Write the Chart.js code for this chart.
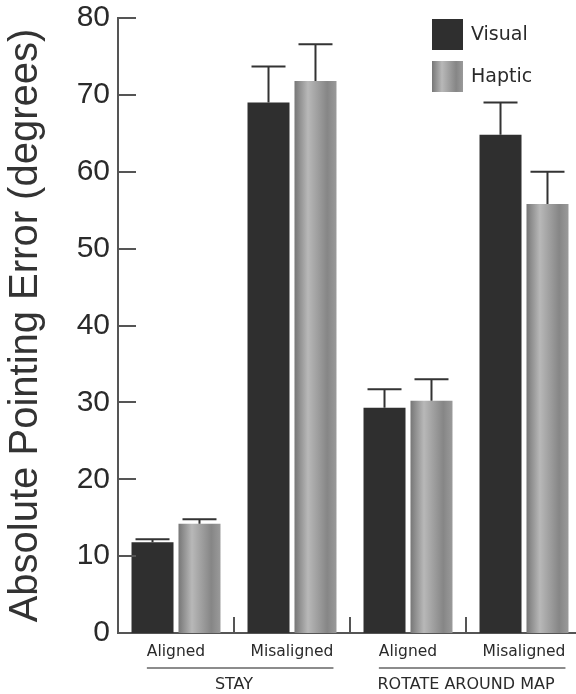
<!DOCTYPE html>
<html>
<head>
<meta charset="utf-8">
<script src="https://cdn.jsdelivr.net/npm/chart.js@4.4.1/dist/chart.umd.min.js"></script>
<style>
  html, body { margin: 0; padding: 0; background: #fff; overflow: hidden; }
  #chart { display: block; }
</style>
</head>
<body>
<canvas id="chart" width="582" height="694"></canvas>
<script>
// data
const categories = ['Aligned', 'Misaligned', 'Aligned', 'Misaligned'];
const groups = ['STAY', 'ROTATE AROUND MAP'];
const seriesNames = ['Visual', 'Haptic'];
const visualMeans = [11.8, 69.0, 29.3, 64.8];
const visualErrors = [0.4, 4.7, 2.4, 4.2];
const hapticMeans = [14.2, 71.8, 30.2, 55.8];
const hapticErrors = [0.6, 4.8, 2.8, 4.2];
const yTicks = [0, 10, 20, 30, 40, 50, 60, 70, 80];

const catPct = 0.81;
const barPct = 0.894;
const axisColor = '#555';
const textColor = '#2a2a2a';
const smallFont = '"DejaVu Sans", Verdana, sans-serif';

function hapticGradient(ctx, left, right) {
  const g = ctx.createLinearGradient(left, 0, right, 0);
  g.addColorStop(0, '#777');
  g.addColorStop(0.32, '#b8b8b8');
  g.addColorStop(0.78, '#868686');
  g.addColorStop(1, '#9a9a9a');
  return g;
}

function hapticFill(context) {
  const chart = context.chart;
  const xs = chart.scales.x;
  if (!xs || context.dataIndex === undefined) return '#999';
  const slot = (xs.width / categories.length) * catPct / 2;
  const cx = xs.getPixelForValue(context.dataIndex) + slot / 2;
  const hw = slot * barPct / 2;
  if (!isFinite(cx) || !isFinite(hw) || hw <= 0) return '#999';
  return hapticGradient(chart.ctx, cx - hw, cx + hw);
}

// error bars (upper only)
const errorBars = {
  id: 'errorBars',
  afterDatasetsDraw(chart) {
    const ctx = chart.ctx;
    const y = chart.scales.y;
    const errs = [visualErrors, hapticErrors];
    const means = [visualMeans, hapticMeans];
    ctx.save();
    ctx.strokeStyle = '#333';
    ctx.lineWidth = 2;
    chart.data.datasets.forEach(function(ds, di) {
      chart.getDatasetMeta(di).data.forEach(function(bar, i) {
        const top = y.getPixelForValue(means[di][i] + errs[di][i]);
        ctx.beginPath();
        ctx.moveTo(bar.x, bar.y);
        ctx.lineTo(bar.x, top);
        ctx.moveTo(bar.x - 17, top);
        ctx.lineTo(bar.x + 17, top);
        ctx.stroke();
      });
    });
    ctx.restore();
  }
};

// inward ticks, group separators, group labels, legend
const decorations = {
  id: 'decorations',
  afterDraw(chart) {
    const ctx = chart.ctx;
    const area = chart.chartArea;
    const xs = chart.scales.x;
    const y = chart.scales.y;
    ctx.save();
    ctx.strokeStyle = axisColor;
    ctx.lineWidth = 2;
    y.ticks.forEach(function(t) {
      if (t.value === 0) return;
      const py = Math.round(y.getPixelForValue(t.value));
      ctx.beginPath();
      ctx.moveTo(area.left, py);
      ctx.lineTo(area.left + 18, py);
      ctx.stroke();
    });
    for (let i = 0; i < categories.length - 1; i++) {
      const px = Math.round((xs.getPixelForValue(i) + xs.getPixelForValue(i + 1)) / 2);
      ctx.beginPath();
      ctx.moveTo(px, area.bottom);
      ctx.lineTo(px, area.bottom - 16);
      ctx.stroke();
    }

    // group labels under the category labels
    ctx.strokeStyle = '#666';
    ctx.lineWidth = 1.6;
    ctx.fillStyle = textColor;
    ctx.textAlign = 'center';
    ctx.textBaseline = 'alphabetic';
    groups.forEach(function(name, g) {
      const a = 2 * g, b = 2 * g + 1;
      const ca = xs.getPixelForValue(a), cb = xs.getPixelForValue(b);
      ctx.font = '15.5px ' + smallFont;
      const left = ca - ctx.measureText(categories[a]).width / 2;
      const right = cb + ctx.measureText(categories[b]).width / 2;
      ctx.beginPath();
      ctx.moveTo(left, 668);
      ctx.lineTo(right, 668);
      ctx.stroke();
      ctx.font = '16px ' + smallFont;
      ctx.fillText(name, (ca + cb) / 2, 689);
    });

    // legend
    ctx.font = '19px ' + smallFont;
    ctx.textAlign = 'left';
    ctx.textBaseline = 'middle';
    const lx = 432, box = 31;
    seriesNames.forEach(function(name, i) {
      const ly = 19 + i * 42;
      ctx.fillStyle = i === 0 ? '#2f2f2f' : hapticGradient(ctx, lx, lx + box);
      ctx.fillRect(lx, ly, box, box);
      ctx.fillStyle = textColor;
      ctx.fillText(name, lx + 39, ly + box / 2 + 1);
    });
    ctx.restore();
  }
};

new Chart(document.getElementById('chart'), {
  type: 'bar',
  data: {
    labels: categories,
    datasets: [
      {
        label: seriesNames[0],
        data: visualMeans,
        backgroundColor: '#2f2f2f',
        categoryPercentage: catPct,
        barPercentage: barPct
      },
      {
        label: seriesNames[1],
        data: hapticMeans,
        backgroundColor: hapticFill,
        categoryPercentage: catPct,
        barPercentage: barPct
      }
    ]
  },
  options: {
    responsive: false,
    animation: false,
    layout: { padding: { top: 18, left: 0, right: 0, bottom: 0 } },
    plugins: {
      legend: { display: false },
      tooltip: { enabled: false }
    },
    scales: {
      x: {
        grid: { display: false, drawTicks: false },
        border: { color: axisColor, width: 2 },
        ticks: {
          color: textColor,
          padding: 10,
          font: { family: smallFont, size: 15.5 }
        },
        afterFit: function(scale) { scale.height = 61; }
      },
      y: {
        min: 0,
        max: 80,
        afterBuildTicks: function(scale) {
          scale.ticks = yTicks.map(function(v) { return { value: v }; });
        },
        grid: { display: false, drawTicks: false },
        border: { color: axisColor, width: 2 },
        ticks: {
          color: textColor,
          padding: 8,
          font: { family: '"Liberation Sans", Arial', size: 30 }
        },
        title: {
          display: true,
          text: 'Absolute Pointing Error (degrees)',
          color: '#333',
          padding: { top: 2, bottom: 0 },
          font: { family: '"Liberation Sans", Arial', size: 40 }
        },
        afterFit: function(scale) {
          scale.width = 118;
          scale.paddingTop = 0;
          scale.paddingBottom = 0;
        }
      }
    }
  },
  plugins: [errorBars, decorations]
});
</script>
</body>
</html>
